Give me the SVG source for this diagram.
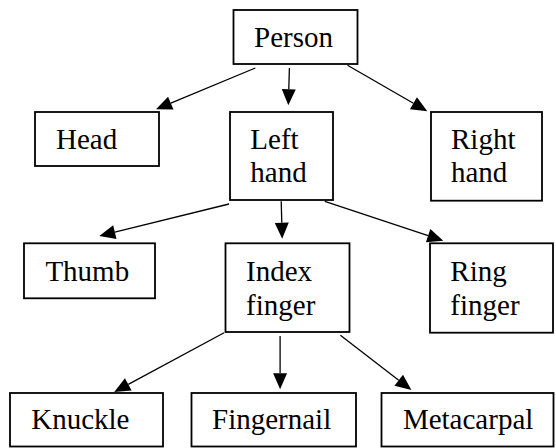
<svg xmlns="http://www.w3.org/2000/svg" width="556" height="448" viewBox="0 0 556 448">
<defs>
<style>
.box{fill:#fff;stroke:#000;stroke-width:1.8}
.c{stroke:#000;stroke-width:1.3;fill:none}
.h{fill:#000;stroke:none}
text{font-family:'Liberation Serif','Times New Roman','DejaVu Serif',serif;font-size:29px;fill:#000}
</style>
</defs>
<g id="connectors">
<line class="c" x1="255.3" y1="68" x2="170.8" y2="103.2"/>
<polygon class="h" points="156,109.3 168.08,96.7 173.46,109.62"/>
<line class="c" x1="289.4" y1="68" x2="288.8" y2="89.3"/>
<polygon class="h" points="288.3,105.3 281.77,89.1 295.77,89.52"/>
<line class="c" x1="347.5" y1="65.3" x2="413.4" y2="103.3"/>
<polygon class="h" points="427.3,111.3 409.94,109.37 416.94,97.25"/>
<line class="c" x1="229" y1="204" x2="114.8" y2="232.2"/>
<polygon class="h" points="99.3,236 113.15,225.37 116.51,238.97"/>
<line class="c" x1="281.2" y1="201.3" x2="281.8" y2="222.7"/>
<polygon class="h" points="282.2,238.7 274.77,222.9 288.77,222.52"/>
<line class="c" x1="324.8" y1="201.3" x2="428.1" y2="235.6"/>
<polygon class="h" points="443.3,240.7 425.91,242.29 430.33,229.01"/>
<line class="c" x1="224.1" y1="332.7" x2="128.3" y2="384.4"/>
<polygon class="h" points="114.2,392 124.96,378.24 131.6,390.56"/>
<line class="c" x1="280.1" y1="336" x2="280.1" y2="373.3"/>
<polygon class="h" points="280.1,389.3 273.1,373.3 287.1,373.3"/>
<line class="c" x1="340.4" y1="335.3" x2="398.7" y2="380.2"/>
<polygon class="h" points="411.4,390 394.45,385.79 402.99,374.69"/>
</g>
<g id="person"><rect class="box" x="233.5" y="10" width="124" height="54"/><text x="254" y="46.5">Person</text></g>
<g id="head"><rect class="box" x="35" y="112" width="124" height="54"/><text x="56" y="148.7">Head</text></g>
<g id="left-hand"><rect class="box" x="230" y="112" width="103" height="88"/><text x="250.3" y="149">Left</text><text x="250.3" y="182.3">hand</text></g>
<g id="right-hand"><rect class="box" x="431" y="112" width="111" height="88.7"/><text x="451" y="149">Right</text><text x="451" y="182.3">hand</text></g>
<g id="thumb"><rect class="box" x="24" y="243.3" width="131" height="55"/><text x="45.4" y="280.7">Thumb</text></g>
<g id="index-finger"><rect class="box" x="225.5" y="243.3" width="124" height="88.7"/><text x="246.1" y="280.7">Index</text><text x="246.1" y="314.7">finger</text></g>
<g id="ring-finger"><rect class="box" x="430" y="243.3" width="123" height="89.4"/><text x="450.3" y="280.7">Ring</text><text x="450.3" y="314.7">finger</text></g>
<g id="knuckle"><rect class="box" x="10" y="393" width="153" height="53.5"/><text x="31.2" y="429.3">Knuckle</text></g>
<g id="fingernail"><rect class="box" x="191.5" y="393" width="164.5" height="53.5"/><text x="212" y="429.3">Fingernail</text></g>
<g id="metacarpal"><rect class="box" x="381.5" y="393" width="172" height="53.5"/><text x="402.9" y="429.3">Metacarpal</text></g>
</svg>
